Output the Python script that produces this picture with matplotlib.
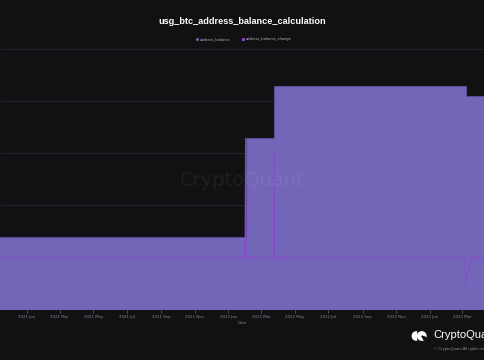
import pandas as pd
import matplotlib
matplotlib.use("Agg")
import matplotlib.pyplot as plt
import matplotlib.dates as mdates
from matplotlib.lines import Line2D
from matplotlib.patches import Wedge, Circle

# USG address balance (BTC), step changes
balance_dates = ["2020-11-13", "2022-02-01", "2022-03-25", "2023-03-07", "2023-04-11"]
balance_values = [69370, 164006, 214006, 204145, 204145]

# daily balance change (BTC)
change_dates = ["2020-11-13", "2022-01-31", "2022-02-01", "2022-02-02",
                "2022-03-24", "2022-03-25", "2022-03-26",
                "2023-03-06", "2023-03-07", "2023-03-17", "2023-04-11"]
change_values = [0, 0, 57000, 0, 0, 50000, 0, 0, -12400, 0, 0]

x_start, x_end = "2020-11-13", "2023-04-11"

BG = "#111114"
AREA = "#7366b8"
AREA_EDGE = "#564b93"
CHANGE = "#8e44d4"
GRID = "#232327"
TXT = "#8a8a8e"

bal = pd.Series(balance_values, index=pd.to_datetime(balance_dates))
chg = pd.Series(change_values, index=pd.to_datetime(change_dates))

fig = plt.figure(figsize=(4.85, 3.6), dpi=100, facecolor=BG)
ax = fig.add_axes([0, 1 - 310 / 360, 1, (310 - 48.5) / 360])
ax.set_facecolor(BG)

ax.fill_between(bal.index, bal.values, 0, step="post", color=AREA, linewidth=0, zorder=1)
ax.step(bal.index, bal.values, where="post", color=AREA_EDGE, lw=0.8, zorder=2)

ax.set_ylim(0, 250000)
ax.set_yticks(range(0, 250001, 50000))
ax.set_axisbelow(True)
ax.grid(axis="y", color=GRID, lw=0.8)
ax.grid(axis="x", visible=False)
ax.tick_params(axis="y", left=False, labelleft=False)

ax.set_xlim(pd.Timestamp(x_start), pd.Timestamp(x_end))
ax.xaxis.set_major_locator(mdates.MonthLocator(bymonth=[1, 3, 5, 7, 9, 11]))
ax.xaxis.set_major_formatter(mdates.DateFormatter("%Y %b"))
ax.tick_params(axis="x", colors=TXT, labelsize=2.8, length=2, width=0.4, pad=1.5)
ax.set_xlabel("Date", color=TXT, fontsize=2.8, labelpad=1.5)
for s in ax.spines.values():
    s.set_visible(False)

ax2 = ax.twinx()
ax2.plot(chg.index, chg.values, color=CHANGE, lw=0.7, zorder=3)
ax2.set_ylim(-25000, 100000)
ax2.tick_params(axis="y", right=False, labelright=False)
for s in ax2.spines.values():
    s.set_visible(False)

# watermark
fig.text(0.5, 1 - 180 / 360, "CryptoQuant", color="white", alpha=0.06,
         fontsize=14, ha="center", va="center")

# title
fig.text(0.5, 1 - 21 / 360, "usg_btc_address_balance_calculation", color="white",
         fontsize=6.6, fontweight="bold", ha="center", va="center",
         family="Liberation Sans")

# legend
ly = 1 - 39.3 / 360
fig.add_artist(Line2D([197.3 / 485], [ly], marker="o", ms=1.2, color=AREA,
                      transform=fig.transFigure))
fig.text(200 / 485, ly, "address_balance", color="#b8b8bc", fontsize=2.6, va="center")
fig.add_artist(Line2D([242.7 / 485], [ly], marker="s", ms=1.2, color=CHANGE,
                      transform=fig.transFigure))
fig.text(246 / 485, ly, "address_balance_change", color="#b8b8bc", fontsize=2.6, va="center")

# logo (cut at the right edge, as in the source)
lax = fig.add_axes([410 / 485, 1 - 341 / 360, 18 / 485, 10 / 360])
lax.set_xlim(0, 18)
lax.set_ylim(0, 10)
lax.set_aspect("equal")
lax.axis("off")
lax.add_patch(Wedge((6.5, 5), 4.2, 90, 270, color="white"))
lax.add_patch(Circle((11.8, 5), 4.2, color="white"))
lax.add_patch(Wedge((11.8, 5), 4.5, -60, -20, color=BG))
fig.text(433 / 485, 1 - 335.5 / 360, "CryptoQuant", color="white", fontsize=8,
         va="center", family="Liberation Sans")
fig.text(434 / 485, 1 - 349 / 360, "\u00a9 CryptoQuant All rights reserved.",
         color=TXT, fontsize=3, va="center", family="Liberation Sans")

fig.savefig("out.png", dpi=100, facecolor=BG)
